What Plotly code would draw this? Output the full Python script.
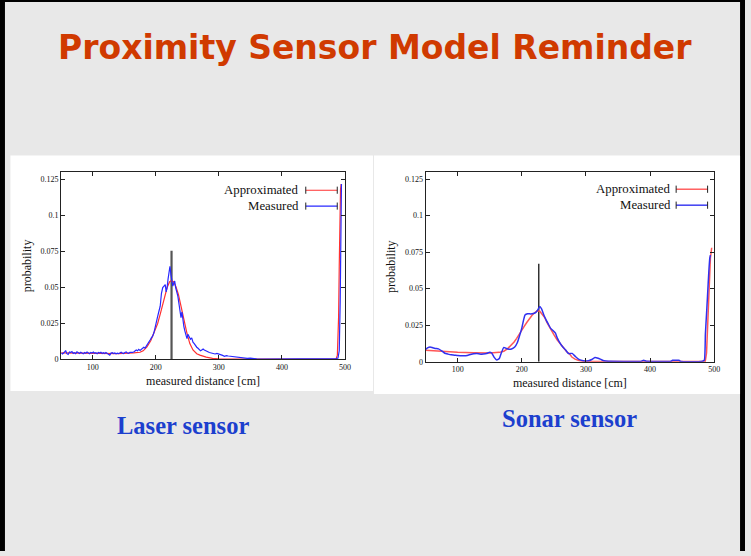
import plotly.graph_objects as go

# ---------------- data ----------------
laser_fit_x = [50, 80, 110, 140, 165, 175, 180, 186, 192, 197, 203, 208, 213, 218, 222, 225, 228, 232, 236, 240,
               244, 249, 254, 259, 265, 270, 280, 290, 300, 330, 400, 486, 488, 490, 491, 492, 493, 494]
laser_fit_y = [0.0046, 0.0044, 0.0042, 0.0041, 0.0045, 0.0050, 0.0060, 0.0087, 0.0130, 0.0180, 0.0250, 0.0330,
               0.0420, 0.0500, 0.0540, 0.0548, 0.0540, 0.0505, 0.0450, 0.0380, 0.0290, 0.0190, 0.0110, 0.0066,
               0.0040, 0.0030, 0.0016, 0.0008, 0.0004, 0.0002, 0.0001, 0.0003, 0.0030, 0.0300, 0.0650, 0.1000,
               0.1180, 0.1220]

laser_meas_x = [50, 52, 55, 57, 59, 61, 63, 65, 67, 69, 71, 73, 75, 77, 79, 81, 83, 85, 87, 89, 91, 93, 95, 97, 99,
                101, 103, 105, 107, 109, 111, 113, 115, 117, 119, 121, 123, 125, 127, 129, 131, 133, 135, 137, 139,
                141, 143, 145, 147, 149, 151, 153, 155, 157, 159, 161, 163, 165, 167, 169, 171, 173, 175, 177, 179,
                181, 183, 185, 187, 189, 191, 193, 195, 197, 199, 201, 203, 205, 207, 209, 211, 213, 215, 216.5,
                218, 219.5, 221, 222.5, 224, 225.5, 227, 228.5, 230, 231.5, 233, 235, 237, 238.5, 240, 241.5, 243,
                244.5, 246, 248, 249.5, 251, 253, 255, 257, 259, 261, 263, 265, 267, 269, 271, 273, 275, 277, 279,
                281, 283, 285, 288, 291, 294, 297, 300, 303, 306, 309, 312, 315, 318, 322, 326, 330, 335, 340, 345,
                350, 355, 360, 370, 380, 390, 400, 410, 420, 430, 440, 450, 460, 470, 480, 486, 489, 491, 492.5,
                493.5, 494.5]
laser_meas_y = [0.0045, 0.0038, 0.0050, 0.0062, 0.0040, 0.0035, 0.0052, 0.0048, 0.0055, 0.0042, 0.0047, 0.0040,
                0.0053, 0.0046, 0.0041, 0.0050, 0.0044, 0.0039, 0.0048, 0.0043, 0.0052, 0.0046, 0.0040, 0.0049,
                0.0045, 0.0051, 0.0043, 0.0047, 0.0040, 0.0049, 0.0044, 0.0050, 0.0042, 0.0047, 0.0041, 0.0048,
                0.0043, 0.0038, 0.0030, 0.0044, 0.0047, 0.0041, 0.0045, 0.0039, 0.0043, 0.0040, 0.0046, 0.0050,
                0.0044, 0.0041, 0.0048, 0.0052, 0.0045, 0.0043, 0.0050, 0.0047, 0.0049, 0.0052, 0.0058, 0.0065,
                0.0060, 0.0070, 0.0063, 0.0072, 0.0078, 0.0085, 0.0079, 0.0092, 0.0100, 0.0118, 0.0135, 0.0150,
                0.0162, 0.0185, 0.0230, 0.0270, 0.0300, 0.0335, 0.0370, 0.0460, 0.0500, 0.0510, 0.0520, 0.0470,
                0.0500, 0.0560, 0.0600, 0.0648, 0.0590, 0.0540, 0.0510, 0.0530, 0.0545, 0.0500, 0.0480, 0.0440,
                0.0380, 0.0330, 0.0290, 0.0330, 0.0270, 0.0230, 0.0200, 0.0165, 0.0145, 0.0175, 0.0150, 0.0140,
                0.0150, 0.0120, 0.0110, 0.0095, 0.0085, 0.0078, 0.0068, 0.0060, 0.0066, 0.0072, 0.0065, 0.0060,
                0.0056, 0.0052, 0.0048, 0.0045, 0.0040, 0.0038, 0.0042, 0.0039, 0.0032, 0.0028, 0.0022, 0.0026,
                0.0024, 0.0022, 0.0020, 0.0018, 0.0015, 0.0012, 0.0010, 0.0008, 0.0009, 0.0006, 0.0004, 0.0003,
                0.0003, 0.0002, 0.0003, 0.0002, 0.0003, 0.0002, 0.0004, 0.0002, 0.0003, 0.0002, 0.0004, 0.0006,
                0.0010, 0.0060, 0.0400, 0.0900, 0.1220]

sonar_fit_x = [50, 75, 100, 125, 150, 165, 172, 178, 184, 188, 192, 196, 200, 204, 208, 212, 216, 220, 224, 228,
               232, 236, 240, 245, 250, 255, 260, 265, 270, 274, 278, 283, 289, 295, 305, 320, 350, 420, 484, 486,
               488, 490, 492, 494, 496]
sonar_fit_y = [0.0079, 0.0071, 0.0065, 0.0062, 0.0060, 0.0064, 0.0072, 0.0090, 0.0113, 0.0135, 0.0160, 0.0185,
               0.0212, 0.0243, 0.0270, 0.0295, 0.0318, 0.0335, 0.0348, 0.0345, 0.0325, 0.0300, 0.0263, 0.0220,
               0.0185, 0.0150, 0.0122, 0.0090, 0.0068, 0.0056, 0.0032, 0.0018, 0.0008, 0.0004, 0.0002, 0.0002,
               0.0001, 0.0001, 0.0001, 0.0004, 0.0060, 0.0260, 0.0500, 0.0710, 0.0780]

sonar_meas_x = [50, 53, 57, 61, 65, 70, 75, 80, 85, 90, 95, 100, 105, 110, 115, 120, 125, 130, 135, 140, 145, 150,
                153, 157, 161, 165, 168.5, 172, 176, 180, 184, 189, 193, 196, 200, 203, 205, 209, 214, 218, 222,
                225, 228, 231, 234.5, 238, 241, 245, 249, 252.5, 255, 258, 263, 268, 273, 278.5, 283.5, 289, 296,
                304, 309, 314, 319, 324, 328, 335, 360, 385, 390, 394, 420, 432, 435, 445, 448, 480, 484.5, 486.2,
                488, 489.5, 491.6, 493.1, 494]
sonar_meas_y = [0.0085, 0.0095, 0.0101, 0.0096, 0.0091, 0.0088, 0.0075, 0.0058, 0.0052, 0.0047, 0.0045, 0.0042,
                0.0041, 0.0040, 0.0043, 0.0049, 0.0054, 0.0056, 0.0052, 0.0053, 0.0056, 0.0065, 0.0060, 0.0030,
                0.0011, 0.0022, 0.0065, 0.0098, 0.0090, 0.0085, 0.0087, 0.0101, 0.0130, 0.0170, 0.0230, 0.0290,
                0.0320, 0.0328, 0.0327, 0.0330, 0.0338, 0.0355, 0.0377, 0.0360, 0.0318, 0.0285, 0.0260, 0.0228,
                0.0212, 0.0195, 0.0165, 0.0140, 0.0106, 0.0082, 0.0055, 0.0057, 0.0036, 0.0016, 0.0007, 0.0006,
                0.0015, 0.0029, 0.0024, 0.0014, 0.0007, 0.0003, 0.0002, 0.0002, 0.0010, 0.0003, 0.0002, 0.0002,
                0.0010, 0.0010, 0.0002, 0.0002, 0.0010, 0.0190, 0.0330, 0.0450, 0.0620, 0.0710, 0.0730]

laser_true_x = [225, 225]
laser_true_y = [0, 0.0755]
sonar_true_x = [226.5, 226.5]
sonar_true_y = [0, 0.067]

x_ticks = [100, 200, 300, 400, 500]
y_ticks = [0, 0.025, 0.05, 0.075, 0.1, 0.125]
y_tick_text = ["0", "0.025", "0.05", "0.075", "0.1", "0.125"]
legend_names = ["Approximated", "Measured"]

# ---------------- figure ----------------
W, H = 751, 556
RED = "#ff3030"
BLUE = "#2828ff"
RED_S = "#ff5555"
BLUE_S = "#3030f0"
SERIF = "Liberation Serif, Times New Roman, serif"

fig = go.Figure()
fig.add_trace(go.Scatter(x=laser_true_x, y=laser_true_y, mode="lines",
                         line=dict(color="#555555", width=2.2), xaxis="x", yaxis="y"))
fig.add_trace(go.Scatter(x=laser_fit_x, y=laser_fit_y, mode="lines", name=legend_names[0],
                         line=dict(color=RED, width=1.2), xaxis="x", yaxis="y"))
fig.add_trace(go.Scatter(x=laser_meas_x, y=laser_meas_y, mode="lines", name=legend_names[1],
                         line=dict(color=BLUE, width=1.2), xaxis="x", yaxis="y"))

fig.add_trace(go.Scatter(x=sonar_true_x, y=sonar_true_y, mode="lines",
                         line=dict(color="#000000", width=1.2), xaxis="x2", yaxis="y2"))
fig.add_trace(go.Scatter(x=sonar_fit_x, y=sonar_fit_y, mode="lines", name=legend_names[0],
                         line=dict(color=RED_S, width=1.5), xaxis="x2", yaxis="y2"))
fig.add_trace(go.Scatter(x=sonar_meas_x, y=sonar_meas_y, mode="lines", name=legend_names[1],
                         line=dict(color=BLUE_S, width=1.5, shape="spline", smoothing=0.4),
                         xaxis="x2", yaxis="y2"))


def px_x(p):
    return p / W


def px_y(p):
    return 1 - p / H


axis_common = dict(showgrid=False, zeroline=False, showline=True, linecolor="#222222", linewidth=1,
                   mirror="allticks", ticks="inside", ticklen=4, tickcolor="#222222", tickwidth=1,
                   tickfont=dict(family=SERIF, size=8, color="#111111"))

xa = dict(axis_common, range=[50, 500], tickvals=x_ticks, ticktext=[str(v) for v in x_ticks],
          title=dict(text="measured distance [cm]", font=dict(family=SERIF, size=12, color="#111111"),
                     standoff=5))
ya = dict(axis_common, range=[0, 0.13], tickvals=y_ticks, ticktext=y_tick_text,
          title=dict(text="probability", font=dict(family=SERIF, size=12, color="#111111"), standoff=6))

fig.update_layout(
    width=W, height=H, margin=dict(l=0, r=0, t=0, b=0),
    paper_bgcolor="#e8e8e8", plot_bgcolor="white", showlegend=False,
    xaxis=dict(xa, domain=[px_x(61.7), px_x(347.7)], anchor="y"),
    yaxis=dict(ya, domain=[px_y(362.7), px_y(174)], anchor="x"),
    xaxis2=dict(xa, domain=[px_x(429), px_x(720)], anchor="y2"),
    yaxis2=dict(ya, domain=[px_y(365), px_y(173.3)], anchor="x2"),
)

shapes = [
    # slide border
    dict(type="rect", xref="paper", yref="paper", x0=0, x1=px_x(5), y0=0, y1=1,
         fillcolor="black", line=dict(width=0), layer="below"),
    dict(type="rect", xref="paper", yref="paper", x0=0, x1=1, y0=px_y(2), y1=1,
         fillcolor="black", line=dict(width=0), layer="below"),
    dict(type="rect", xref="paper", yref="paper", x0=px_x(746), x1=1, y0=0, y1=1,
         fillcolor="black", line=dict(width=0), layer="below"),
    # white panels behind charts
    dict(type="rect", xref="paper", yref="paper", x0=px_x(10.5), x1=px_x(376), y0=px_y(394.5), y1=px_y(157),
         fillcolor="white", line=dict(width=0), layer="below"),
    dict(type="rect", xref="paper", yref="paper", x0=px_x(377), x1=px_x(746), y0=px_y(397.5), y1=px_y(157),
         fillcolor="white", line=dict(width=0), layer="below"),
]

annotations = [
    dict(text="<b>Proximity Sensor Model Reminder</b>", xref="paper", yref="paper", x=px_x(378), y=px_y(48),
         xanchor="center", yanchor="middle", showarrow=False,
         font=dict(family="DejaVu Sans", size=33, color="#d03a00")),
    dict(text="<b>Laser sensor</b>", xref="paper", yref="paper", x=px_x(184), y=px_y(429),
         xanchor="center", yanchor="middle", showarrow=False,
         font=dict(family=SERIF, size=24.5, color="#1c3fce")),
    dict(text="<b>Sonar sensor</b>", xref="paper", yref="paper", x=px_x(574), y=px_y(422),
         xanchor="center", yanchor="middle", showarrow=False,
         font=dict(family=SERIF, size=24.5, color="#1c3fce")),
]

# manual gnuplot-style legends
legend_specs = [
    ("x domain", "y domain", 0.845, 0.862, 0.973, [0.905, 0.820], 0.019, [RED, BLUE], 1.1),
    ("x2 domain", "y2 domain", 0.858, 0.868, 0.977, [0.908, 0.824], 0.019, [RED_S, BLUE_S], 1.4),
]
for xr, yr, tx, lx0, lx1, rows, cap, cols, lw in legend_specs:
    for name, yy, col in zip(legend_names, rows, cols):
        annotations.append(dict(text=name, xref=xr, yref=yr, x=tx, y=yy, xanchor="right", yanchor="middle",
                                showarrow=False, font=dict(family=SERIF, size=12.8, color="#111111")))
        shapes.append(dict(type="line", xref=xr, yref=yr, x0=lx0, x1=lx1, y0=yy, y1=yy,
                           line=dict(color=col, width=lw)))
        for cx in (lx0, lx1):
            shapes.append(dict(type="line", xref=xr, yref=yr, x0=cx, x1=cx, y0=yy - cap, y1=yy + cap,
                               line=dict(color="#222222", width=1)))

fig.update_layout(shapes=shapes, annotations=annotations)
fig.write_html("out.html", config={"displayModeBar": False},
               post_script="document.body.style.margin='0';document.body.style.overflow='hidden';")
